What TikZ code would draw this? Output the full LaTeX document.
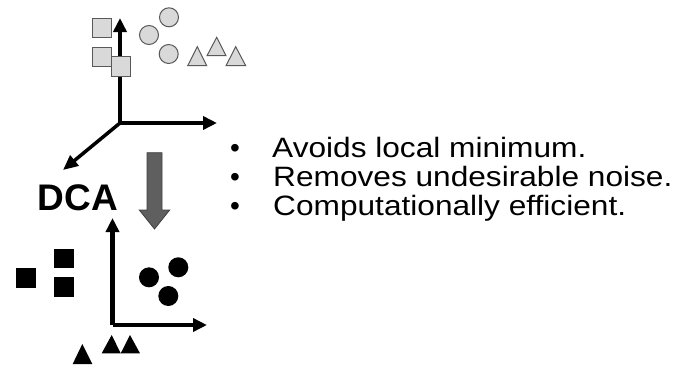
\documentclass[tikz,border=0pt]{standalone}
\usepackage{fontspec}
\setmainfont{Liberation Sans}
\usetikzlibrary{arrows.meta}
\definecolor{lgray}{HTML}{D9D9D9}
\definecolor{bgray}{HTML}{595959}
\definecolor{agray}{HTML}{5F5F5F}
\definecolor{aedge}{HTML}{404040}
\begin{document}
\begin{tikzpicture}[x=1pt,y=-1pt,
  axis/.style={line width=4.5pt,-{Triangle[length=14pt,width=13pt]}},
  diag/.style={line width=3.5pt,-{Triangle[length=15pt,width=13pt]}},
  gshape/.style={fill=lgray,draw=bgray,line width=1pt},
  bshape/.style={fill=black},
  bullettext/.style={anchor=base west,inner sep=0pt,xscale=1.13,font=\fontsize{28}{30}\selectfont},
  bulletdot/.style={anchor=base,inner sep=0pt,font=\fontsize{28}{30}\selectfont}]
\useasboundingbox (0,0) rectangle (684,364);
% top axes
\coordinate (o1) at (120,123);
\coordinate (y1) at (120,18);
\coordinate (x1) at (217,123);
\coordinate (z1) at (63,170);
\draw[axis] (o1) -- (y1);
\draw[axis] (o1) -- (x1);
\draw[diag] (o1) -- (z1);
% top squares
\draw[gshape] (92.3,18.3) rectangle (111.7,37.5);
\draw[gshape] (92.3,47.3) rectangle (111.7,66.7);
\draw[gshape] (111.7,56.7) rectangle (130.7,76);
% top circles
\draw[gshape] (169,17.3) circle (9.5);
\draw[gshape] (149,35) circle (9.5);
\draw[gshape] (168.7,54) circle (9.5);
% top triangles
\draw[gshape] (187.7,65.7) -- (197.3,46.7) -- (206.7,65.7) -- cycle;
\draw[gshape] (207,55.7) -- (216.7,37.3) -- (226,55.7) -- cycle;
\draw[gshape] (226,65.7) -- (235.7,46.7) -- (245.7,65.7) -- cycle;
% DCA
\node[anchor=base,inner sep=0pt,font=\fontsize{37}{40}\selectfont\bfseries] (dca) at (78,210) {DCA};
% big gray arrow
\draw[fill=agray,draw=aedge,line width=0.8pt]
  (147,152.7) -- (162,152.7) -- (162,210) -- (169.7,210) -- (154.5,229)
  -- (139.3,210) -- (147,210) -- cycle;
% bottom axes
\coordinate (o2) at (112.5,325);
\coordinate (y2) at (112.5,218);
\coordinate (x2) at (207,325);
\draw[axis] (o2) -- (y2);
\draw[axis] (o2) -- (x2);
% black squares
\fill[bshape] (15.7,267.7) rectangle (35.7,287.7);
\fill[bshape] (54,249) rectangle (74,268.3);
\fill[bshape] (54,277.3) rectangle (74,297.3);
% black circles
\fill[bshape] (149,277.3) circle (10);
\fill[bshape] (178.3,267.3) circle (10);
\fill[bshape] (168.3,296) circle (10);
% black triangles
\fill[bshape] (72.7,364) -- (82.3,344) -- (92.3,364) -- cycle;
\fill[bshape] (101.7,353.3) -- (111.7,335) -- (120.7,353.3) -- cycle;
\fill[bshape] (120.7,353.3) -- (130,335) -- (140,353.3) -- cycle;
% bullets
\node[bulletdot] (b1) at (235,157.5) {•};
\node[bulletdot] (b2) at (235,186.5) {•};
\node[bulletdot] (b3) at (235,215.5) {•};
\node[bullettext] (t1) at (272,157.5) {Avoids local minimum.};
\node[bullettext] (t2) at (273,186.5) {Removes undesirable noise.};
\node[bullettext] (t3) at (273,215.5) {Computationally efficient.};
\end{tikzpicture}
\end{document}
